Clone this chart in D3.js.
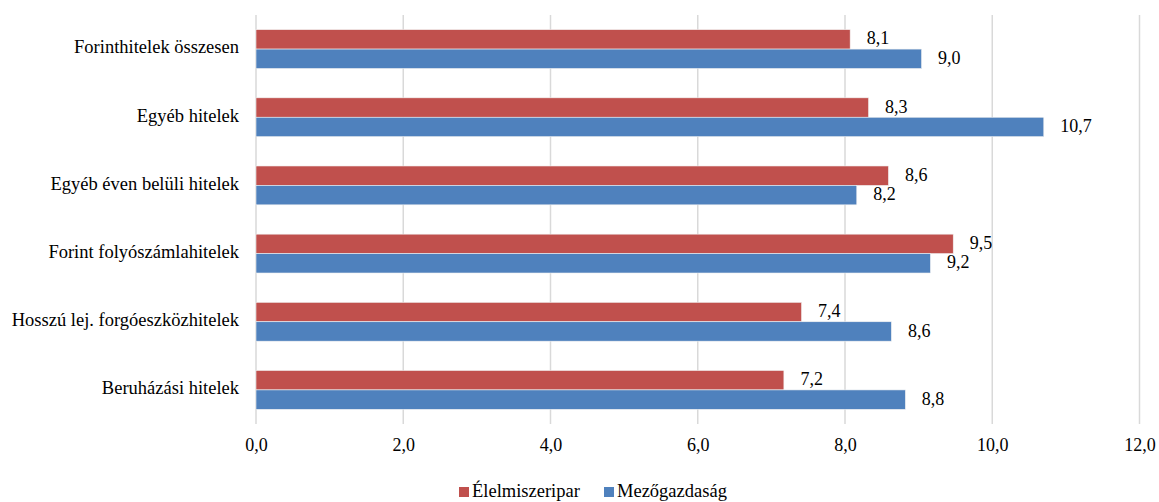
<!DOCTYPE html>
<html><head><meta charset="utf-8">
<script src="https://cdn.jsdelivr.net/npm/d3@7"></script>
<style>body{margin:0;background:#fff}svg{display:block}</style>
</head><body><svg id="c" width="1159" height="502"></svg>
<script>
const categories = ["Forinthitelek összesen","Egyéb hitelek","Egyéb éven belüli hitelek","Forint folyószámlahitelek","Hosszú lej. forgóeszközhitelek","Beruházási hitelek"];
const elelmiszeripar = [8.07, 8.32, 8.59, 9.47, 7.41, 7.17];
const mezogazdasag = [9.04, 10.70, 8.16, 9.16, 8.63, 8.82];
const seriesNames = ["Élelmiszeripar","Mezőgazdaság"];
const colors = ["#C0504D","#4F81BD"];
const ticks = [0,2,4,6,8,10,12];

const FONT = "'Liberation Serif', 'Times New Roman', Times, 'DejaVu Serif', 'Noto Serif', serif";
const svg = d3.select("#c");
const m = {l:256, r:1139.5, t:15, b:424};
const x = d3.scaleLinear().domain([0,12]).range([m.l,m.r]);
const y = d3.scaleBand().domain(categories).range([m.t,m.b]).paddingInner(0.43).paddingOuter(0.215);
const sub = d3.scaleBand().domain(seriesNames).range([0,y.bandwidth()]);
const fmt = v => d3.format(".1f")(v).replace(".", ",");

// grid
svg.append("g").selectAll("line").data(ticks).join("line")
  .attr("x1",d=>x(d)).attr("x2",d=>x(d)).attr("y1",m.t).attr("y2",m.b)
  .attr("stroke","#D9D9D9").attr("stroke-width",1.5);

const data = [elelmiszeripar, mezogazdasag];
seriesNames.forEach((s,si)=>{
  const g = svg.append("g");
  g.selectAll("rect").data(categories).join("rect")
    .attr("x",x(0)).attr("y",c=>y(c)+sub(s))
    .attr("width",(c,i)=>x(data[si][i])-x(0)).attr("height",sub.bandwidth())
    .attr("fill",colors[si]).attr("stroke","#f2f2f2").attr("stroke-width",0.6);
  g.selectAll("text").data(categories).join("text")
    .attr("x",(c,i)=>x(data[si][i])+16.5).attr("y",c=>y(c)+sub(s)+sub.bandwidth()/2+1)
    .attr("dominant-baseline","middle")
    .style("font-family",FONT).style("font-size","18px").style("fill","#000")
    .text((c,i)=>fmt(data[si][i]));
});

// category labels
svg.append("g").selectAll("text").data(categories).join("text")
  .attr("x",239).attr("y",c=>y(c)+y.bandwidth()/2)
  .attr("text-anchor","end").attr("dominant-baseline","middle")
  .style("font-family",FONT).style("font-size","18.5px").style("fill","#000")
  .text(d=>d);

// x axis
const ax = svg.append("g").attr("transform",`translate(0,${m.b})`)
  .call(d3.axisBottom(x).tickValues(ticks).tickSize(0).tickPadding(14).tickFormat(fmt));
ax.select(".domain").remove();
ax.selectAll("text").style("font-family",FONT).style("font-size","18px").style("fill","#000");

// legend
const lg = svg.append("g");
const lx = [459,604];
seriesNames.forEach((s,i)=>{
  lg.append("rect").attr("x",lx[i]).attr("y",487).attr("width",10).attr("height",10).attr("fill",colors[i]);
  lg.append("text").attr("x",lx[i]+13).attr("y",493).attr("dominant-baseline","middle")
    .style("font-family",FONT).style("font-size","18.5px").style("fill","#000").text(s);
});
</script></body></html>
